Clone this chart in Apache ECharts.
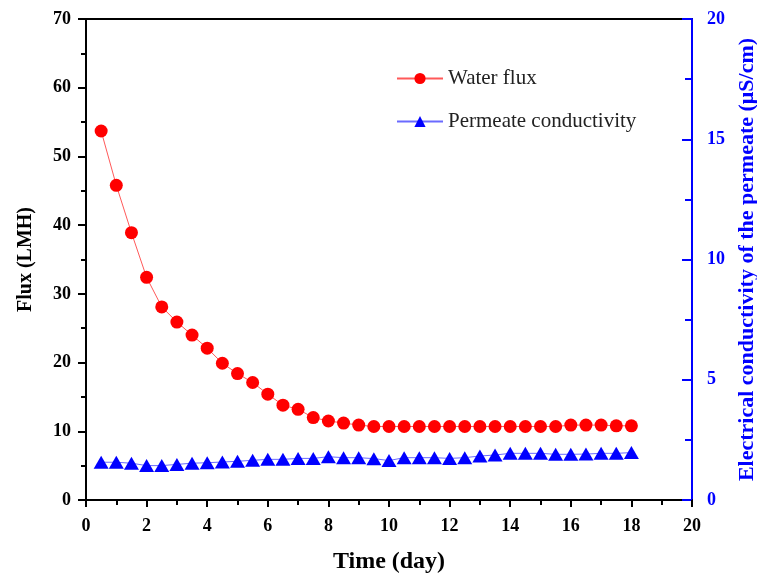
<!DOCTYPE html>
<html>
<head>
<meta charset="utf-8">
<script src="https://cdn.jsdelivr.net/npm/echarts@6/dist/echarts.min.js"></script>
<style>
    html, body { margin: 0; padding: 0; background: #fff; overflow: hidden; }
    #chart { width: 757px; height: 579px; }
</style>
</head>
<body>
<div id="chart"></div>
<script>
    // time points (day)
    const days = [0.5, 1, 1.5, 2, 2.5, 3, 3.5, 4, 4.5, 5, 5.5, 6, 6.5, 7, 7.5, 8, 8.5, 9,
                  9.5, 10, 10.5, 11, 11.5, 12, 12.5, 13, 13.5, 14, 14.5, 15, 15.5, 16, 16.5, 17, 17.5, 18];
    // water flux (LMH)
    const waterFlux = [53.7, 45.8, 38.9, 32.4, 28.1, 25.9, 24.0, 22.1, 19.9, 18.4, 17.1, 15.4, 13.8, 13.2, 12.0, 11.5, 11.2, 10.9,
                       10.7, 10.7, 10.7, 10.7, 10.7, 10.7, 10.7, 10.7, 10.7, 10.7, 10.7, 10.7, 10.7, 10.9, 10.9, 10.9, 10.8, 10.8];
    // permeate conductivity (µS/cm)
    const conductivity = [1.57, 1.57, 1.53, 1.43, 1.43, 1.48, 1.53, 1.55, 1.58, 1.61, 1.65, 1.69, 1.69, 1.73, 1.73, 1.80, 1.76, 1.76,
                          1.72, 1.64, 1.76, 1.76, 1.76, 1.73, 1.76, 1.83, 1.87, 1.94, 1.94, 1.94, 1.90, 1.90, 1.91, 1.94, 1.94, 1.97];

    const serif = '"Liberation Serif", "Times New Roman", serif';
    const pair = (xs, ys) => xs.map((x, i) => [x, ys[i]]);

    const option = {
        backgroundColor: '#fff',
        animation: false,
        grid: {
            left: 86, right: 65, top: 19, bottom: 79,
            outerBoundsMode: 'none',
            show: true,
            borderColor: '#000',
            borderWidth: 2
        },
        legend: {
            orient: 'vertical',
            left: 391,
            top: 63,
            itemWidth: 46,
            itemHeight: 14,
            itemGap: 22,
            textStyle: { fontFamily: serif, fontSize: 21, color: '#222' },
            data: ['Water flux', 'Permeate conductivity']
        },
        xAxis: {
            type: 'value',
            min: 0, max: 20, interval: 2,
            name: 'Time (day)',
            nameLocation: 'middle',
            nameGap: 50,
            nameTextStyle: { fontFamily: serif, fontSize: 24, fontWeight: 'bold', color: '#000' },
            axisLine: { lineStyle: { color: '#000', width: 2 } },
            axisTick: { length: 7, lineStyle: { color: '#000', width: 2 } },
            minorTick: { show: true, splitNumber: 2, length: 5, lineStyle: { color: '#000', width: 2 } },
            axisLabel: { margin: 17, fontFamily: serif, fontSize: 18, fontWeight: 'bold', color: '#000' },
            splitLine: { show: false }
        },
        yAxis: [
            {
                type: 'value',
                min: 0, max: 70, interval: 10,
                name: 'Flux (LMH)',
                nameLocation: 'middle',
                nameGap: 50,
                nameTextStyle: { fontFamily: serif, fontSize: 20, fontWeight: 'bold', color: '#000' },
                axisLine: { show: true, lineStyle: { color: '#000', width: 2 } },
                axisTick: { length: 8, lineStyle: { color: '#000', width: 2 } },
                minorTick: { show: true, splitNumber: 2, length: 5, lineStyle: { color: '#000', width: 2 } },
                axisLabel: { margin: 15, fontFamily: serif, fontSize: 18, fontWeight: 'bold', color: '#000' },
                splitLine: { show: false }
            },
            {
                type: 'value',
                position: 'right',
                min: 0, max: 20, interval: 5,
                name: 'Electrical conductivity of the permeate (\u03bcS/cm)',
                nameLocation: 'middle',
                nameGap: 44,
                nameRotate: 90,
                nameTextStyle: { fontFamily: serif, fontSize: 22, fontWeight: 'bold', color: '#0000ff' },
                axisLine: { show: true, lineStyle: { color: '#0000ff', width: 2 } },
                axisTick: { inside: true, length: 10, lineStyle: { color: '#0000ff', width: 2 } },
                minorTick: { show: true, splitNumber: 2, length: 7, lineStyle: { color: '#0000ff', width: 2 } },
                axisLabel: { margin: 15, fontFamily: serif, fontSize: 18, fontWeight: 'bold', color: '#0000ff' },
                splitLine: { show: false }
            }
        ],
        series: [
            {
                name: 'Water flux',
                type: 'line',
                yAxisIndex: 0,
                symbol: 'circle',
                symbolSize: 13,
                itemStyle: { color: '#ff0000' },
                lineStyle: { color: 'rgba(255,60,60,0.85)', width: 1 },
                data: pair(days, waterFlux)
            },
            {
                name: 'Permeate conductivity',
                type: 'line',
                yAxisIndex: 1,
                symbol: 'triangle',
                symbolSize: [15, 13],
                itemStyle: { color: '#0000ff' },
                lineStyle: { color: 'rgba(80,80,255,0.85)', width: 1 },
                data: pair(days, conductivity)
            }
        ]
    };

    const chart = echarts.init(document.getElementById('chart'));
    chart.setOption(option);
    window.addEventListener('resize', function () {
        chart.resize();
    });
</script>
</body>
</html>
